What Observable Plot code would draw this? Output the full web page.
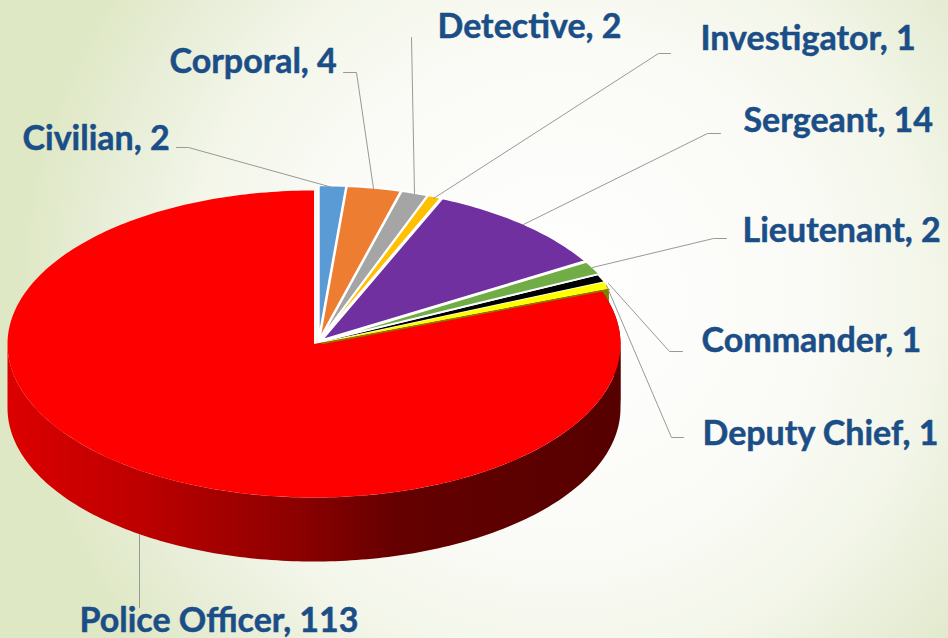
<!DOCTYPE html>
<html><head><meta charset="utf-8">
<script src="https://cdn.jsdelivr.net/npm/d3@7"></script>
<script src="https://cdn.jsdelivr.net/npm/@observablehq/plot@0.6"></script>
<style>html,body{margin:0;padding:0;overflow:hidden;background:#fff}</style>
</head><body><div id="chart"></div>
<script>
const categories = ["Civilian","Corporal","Detective","Investigator","Sergeant","Lieutenant","Commander","Deputy Chief","Police Officer"];
const counts = [2,4,2,1,14,2,1,1,113];
const colors = ["#5b9bd5","#ed7d31","#a5a5a5","#ffc000","#7030a0","#70ad47","#000000","#ffff00","#ff0000"];

const W=948,H=638;
const rx=306.5, ry=153.5, depth=64;
const redC=[313.5,343.5], pieC=[318,341.5], explode=4.5, blackC=[321,341.4], yellowC=[321.5,342];
const arcs=d3.pie().sort(null).value(d=>d.v)(categories.map((n,i)=>({n,v:counts[i]})));
function outline(a,c,grow=0){
  const pts=[{name:a.data.n,x:c[0],y:c[1]}];
  const n=Math.max(2,Math.ceil((a.endAngle-a.startAngle)/(Math.PI/180)));
  for(let i=0;i<=n;i++){const t=a.startAngle+(a.endAngle-a.startAngle)*i/n;
    pts.push({name:a.data.n,x:c[0]+(rx+grow)*Math.sin(t),y:c[1]-(ry+grow)*Math.cos(t)});}
  pts.push(pts[0]);return pts;
}
const exploded=a=>{const m=(a.startAngle+a.endAngle)/2;return [pieC[0]+explode*Math.sin(m),pieC[1]-explode*Math.cos(m)/2];};
const red=arcs[8], yellow=arcs[7], black=arcs[6];
const small=arcs.slice(0,6).flatMap(a=>outline(a,exploded(a),1));
const thin=[...outline(black,blackC),...outline(yellow,yellowC)];
const redTop=outline(red,redC);
const wall=[];
for(let d=90;d<=270;d+=1){const t=d*Math.PI/180;wall.push({x:redC[0]+rx*Math.sin(t),y:redC[1]-ry*Math.cos(t)});}
for(let d=270;d>=90;d-=1){const t=d*Math.PI/180;wall.push({x:redC[0]+rx*Math.sin(t),y:redC[1]-ry*Math.cos(t)+depth});}
const wallUp=[];
for(let d=red.startAngle*180/Math.PI;d<=90;d+=1){const t=d*Math.PI/180;wallUp.push({x:redC[0]+rx*Math.sin(t),y:redC[1]-ry*Math.cos(t)});}
for(let d=90;d>=red.startAngle*180/Math.PI;d-=1){const t=d*Math.PI/180;wallUp.push({x:redC[0]+rx*Math.sin(t),y:redC[1]-ry*Math.cos(t)+depth});}
const yA=yellow.endAngle;
const oliveWall=[
 {x:yellowC[0],y:yellowC[1]+1.5},
 {x:yellowC[0]+rx*Math.sin(yA),y:yellowC[1]-ry*Math.cos(yA)},
 {x:yellowC[0]+rx*Math.sin(yA),y:yellowC[1]-ry*Math.cos(yA)+depth}
];
const oliveEdge=[
 {x:yellowC[0],y:yellowC[1]},
 {x:yellowC[0]+rx*Math.sin(yA),y:yellowC[1]-ry*Math.cos(yA)}
];
const labels=[
 {t:"Civilian, 2",x:22,y:138.5},
 {t:"Corporal, 4",x:169,y:61.5},
 {t:"Detective, 2",x:437,y:26.5},
 {t:"Investigator, 1",x:700,y:38.5},
 {t:"Sergeant, 14",x:743,y:120.5},
 {t:"Lieutenant, 2",x:742,y:230.5},
 {t:"Commander, 1",x:701,y:340.5},
 {t:"Deputy Chief, 1",x:702,y:433.5},
 {t:"Police Officer, 113",x:79,y:621}
];
const leaders=[
 [[176,147],[188,147],[332,187]],
 [[343,72],[356,72],[373,188]],
 [[411,37],[414,193]],
 [[670,53],[658,53],[433,198]],
 [[720,133],[707,133],[523,224]],
 [[726,238],[713,238],[592,267]],
 [[682,351],[669,351],[608,283]],
 [[683,437],[671,437],[606,285]],
 [[139,607],[139,534]]
].flatMap((l,i)=>l.map(p=>({i,x:p[0],y:p[1]})));

const gradient=()=>{
  const svg=d3.create("svg:g");
  const g=svg.append("defs").append("linearGradient").attr("id","wallGrad").attr("gradientUnits","userSpaceOnUse")
    .attr("x1",redC[0]-rx).attr("x2",redC[0]+rx).attr("y1",0).attr("y2",0);
  [[0,"#dc0000"],[0.23,"#bb0000"],[0.48,"#8a0000"],[0.64,"#640000"],[1,"#560000"]].forEach(([o,c])=>g.append("stop").attr("offset",o).attr("stop-color",c));
  return svg.node();
};
const plot=Plot.plot({
  width:W,height:H,margin:0,
  x:{domain:[0,W],range:[0,W],axis:null},
  y:{domain:[0,H],range:[0,H],axis:null},
  color:{domain:categories,range:colors},
  style:{background:"radial-gradient(circle 560px at 560px 300px, #ffffff 0%, #fafbf6 45%, #f3f6e9 66%, #e8eed8 82%, #dfe8c5 97%)",fontFamily:"Lato, sans-serif",display:"block"},
  marks:[
    gradient,
    Plot.line(oliveWall,{x:"x",y:"y",fill:"#808000",stroke:"none"}),
    Plot.line(wallUp,{x:"x",y:"y",fill:"url(#wallGrad)",stroke:"none"}),
    Plot.line(wall,{x:"x",y:"y",fill:"url(#wallGrad)",stroke:"none"}),
    Plot.line(redTop,{x:"x",y:"y",z:"name",fill:"name",stroke:"none"}),
    Plot.line(oliveEdge,{x:"x",y:"y",stroke:"#808000",strokeWidth:1.5,dy:1}),
    Plot.line(thin,{x:"x",y:"y",z:"name",fill:"name",stroke:"none"}),
    Plot.line(small,{x:"x",y:"y",z:"name",fill:"name",stroke:"#ffffff",strokeWidth:2,strokeLinejoin:"miter"}),
    Plot.line(leaders,{x:"x",y:"y",z:"i",stroke:"#999999",strokeWidth:1}),
    Plot.text(labels,{x:"x",y:"y",text:"t",textAnchor:"start",fill:"#1b4e87",stroke:"#1b4e87",strokeWidth:0.5,fontSize:34,fontWeight:700,fontFamily:"Lato, sans-serif"})
  ]
});
document.getElementById("chart").append(plot);
</script></body></html>
